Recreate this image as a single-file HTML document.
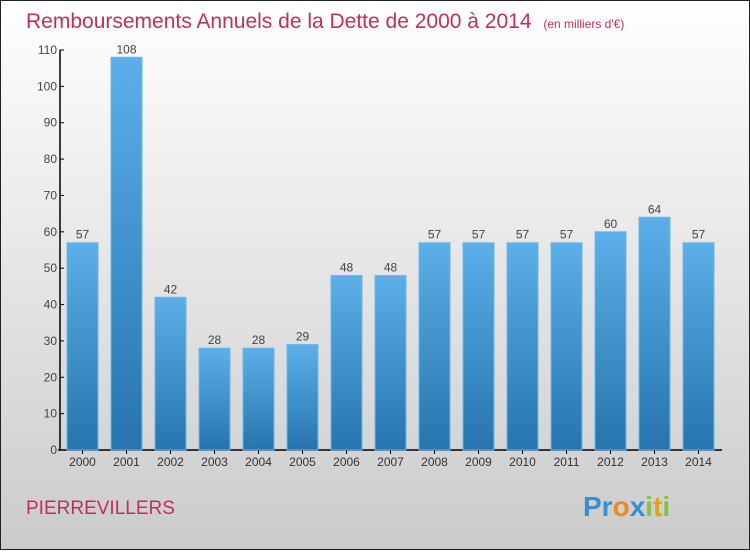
<!DOCTYPE html>
<html><head><meta charset="utf-8"><style>
html,body{margin:0;padding:0}
body{width:750px;height:550px;overflow:hidden;font-family:"Liberation Sans",sans-serif}
</style></head><body>
<svg id="chart" width="750" height="550" xmlns="http://www.w3.org/2000/svg">
<defs>
<linearGradient id="bg" x1="0" y1="0" x2="0" y2="1"><stop offset="0" stop-color="#ffffff"/><stop offset="1" stop-color="#cbcbcb"/></linearGradient>
<linearGradient id="bar" x1="0" y1="0" x2="0" y2="1"><stop offset="0" stop-color="#5cafe8"/><stop offset="1" stop-color="#2674b0"/></linearGradient>
</defs>
<rect x="0.5" y="0.5" width="749" height="549" fill="url(#bg)" stroke="#222" stroke-width="1"/>
<text x="26" y="28" font-size="21" fill="#c0305a">Remboursements Annuels de la Dette de 2000 à 2014 <tspan font-size="12" dx="6">(en milliers d'€)</tspan></text>
<text x="26" y="514" font-size="19" fill="#c0305a">PIERREVILLERS</text>
<g font-size="28" font-weight="bold">
<text x="583" y="516"><tspan fill="#3a8fd0">Pr</tspan><tspan fill="#e88a20">o</tspan><tspan fill="#3a8fd0">x</tspan><tspan fill="#88c040">i</tspan><tspan fill="#e0a020">t</tspan><tspan fill="#88c040">i</tspan></text>
</g>
<g id="plot"></g>
</svg>
<script>
const categories=["2000","2001","2002","2003","2004","2005","2006","2007","2008","2009","2010","2011","2012","2013","2014"];
const values=[57,108,42,28,28,29,48,48,57,57,57,57,60,64,57];
const yTicks=[0,10,20,30,40,50,60,70,80,90,100,110];
const NS="http://www.w3.org/2000/svg";
const g=document.getElementById('plot');
const y0=450,yTop=50,yMax=110;
const y=v=>y0-(v/yMax)*(y0-yTop);
const x=i=>82.5+i*44;
function mk(t,a){const e=document.createElementNS(NS,t);for(const k in a)e.setAttribute(k,a[k]);g.appendChild(e);return e;}
let ax=mk('line',{x1:60,y1:y(110),x2:60,y2:y0,stroke:'#000','stroke-width':1.5});


let xa=mk('line',{x1:58,y1:y0,x2:722,y2:y0,stroke:'#000','stroke-width':1.5});


yTicks.forEach(t=>{
 mk('line',{x1:60,y1:y(t),x2:64,y2:y(t),stroke:'#000'});
 const tx=mk('text',{x:57,y:y(t)+4,'text-anchor':'end','font-size':12,fill:'#444'});
 tx.textContent=t;
 
 
});
categories.forEach((c,i)=>{
 const r=mk('rect',{x:x(i)-15.5,y:y(values[i]),width:31,height:y0-y(values[i]),fill:'url(#bar)',stroke:'#6bb8ec','stroke-width':1});
 
 
 mk('line',{x1:x(i),y1:y0,x2:x(i),y2:y0+4,stroke:'#000'});
 const l=mk('text',{x:x(i),y:y0+16,'text-anchor':'middle','font-size':12,fill:'#333'});
 l.textContent=c;
 
 
 const v=mk('text',{x:x(i),y:y(values[i])-4,'text-anchor':'middle','font-size':12,fill:'#444'});
 v.textContent=values[i];
 
 
});
</script>
</body></html>
